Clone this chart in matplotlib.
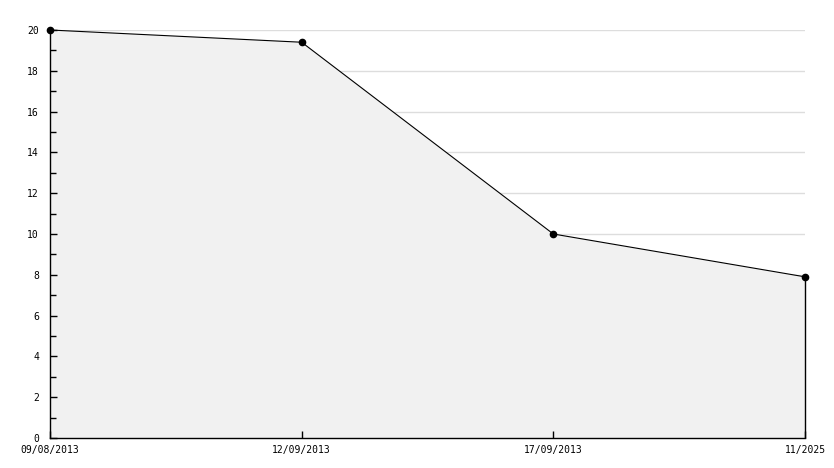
import matplotlib.pyplot as plt
import numpy as np

labels = ['09/08/2013', '12/09/2013', '17/09/2013', '11/2025']
values = [20, 19.4, 10, 7.9]
y_grid = np.arange(2, 21, 2)

x = np.arange(len(labels))

plt.rcParams['font.family'] = 'DejaVu Sans Mono'

fig = plt.figure(figsize=(8.34, 4.68), dpi=100)
ax = fig.add_axes([50/834, 30/468, 755/834, 408/468])

# grid lines sit under the filled area
ax.hlines(y_grid, x[0], x[-1], color='#dddddd', linewidth=1.0, zorder=1)
ax.fill_between(x, values, 0, color='#f1f1f1', zorder=2, linewidth=0)
ax.plot(x, values, color='black', linewidth=0.8, marker='o', markersize=4.5,
        zorder=4, clip_on=False)
ax.vlines(x[-1], 0, values[-1], color='black', linewidth=1.0, zorder=3,
          clip_on=False)

ax.set_xlim(x[0], x[-1])
ax.set_ylim(0, 20)
ax.set_xticks(x)
ax.set_xticklabels(labels)
ax.set_yticks(np.arange(0, 21, 2))
ax.set_yticks(np.arange(1, 21, 2), minor=True)

ax.tick_params(axis='both', which='major', direction='in', length=5,
               width=1.0, labelsize=7, color='black')
ax.tick_params(axis='y', which='minor', direction='in', length=4,
               width=1.0, color='black')
ax.tick_params(axis='y', pad=8)
ax.tick_params(axis='x', pad=5)
ax.xaxis.set_zorder(6)
ax.yaxis.set_zorder(6)

for s in ['top', 'right']:
    ax.spines[s].set_visible(False)
for s in ['left', 'bottom']:
    ax.spines[s].set_linewidth(1.0)
    ax.spines[s].set_zorder(5)

plt.savefig('out.png', dpi=100)
